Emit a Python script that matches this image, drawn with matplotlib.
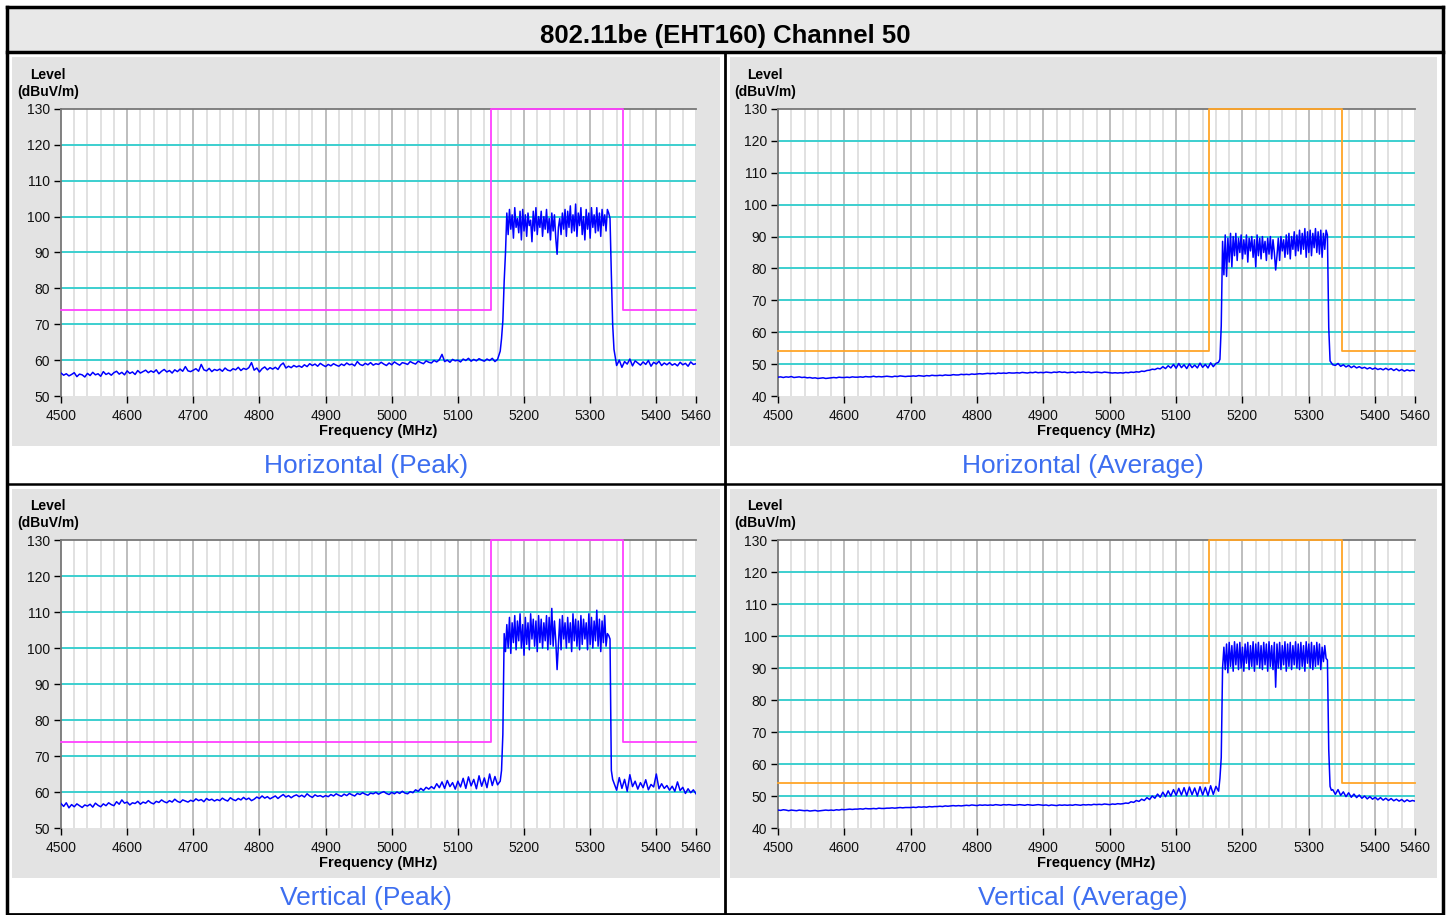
import numpy as np
import matplotlib.pyplot as plt
from matplotlib.patches import Rectangle
from matplotlib.lines import Line2D

plt.rcParams['font.family'] = ['Liberation Sans', 'DejaVu Sans']

# ---- data ----
title = '802.11be (EHT160) Channel 50'
captions = ['Horizontal (Peak)', 'Horizontal (Average)', 'Vertical (Peak)', 'Vertical (Average)']

# analyzer sweep points (MHz): 4 MHz steps outside the channel, 2 MHz across it
freq = np.concatenate([np.arange(4500, 5165, 4),
                       np.arange(5166, 5337, 2),
                       np.arange(5340, 5461, 4)])

# limit masks
limit_freq = [4500, 5150, 5150, 5350, 5350, 5460]
peak_limit = [74, 74, 130, 130, 74, 74]
avg_limit = [54, 54, 130, 130, 54, 54]

# measured levels (dBuV/m)
h_peak = [
    # 4500 - 5164
    56.4, 55.8, 56.2, 55.6, 56.0, 56.5, 55.4, 56.1, 55.9, 55.3,
    56.3, 55.7, 56.6, 55.9, 56.2, 55.5, 56.8, 56.0, 56.4, 55.8,
    56.5, 56.9, 56.1, 56.6, 55.9, 57.0, 56.3, 56.7, 56.0, 57.1,
    56.4, 56.8, 57.2, 56.5, 57.0, 56.6, 57.3, 56.2, 56.9, 57.4,
    56.7, 57.1, 56.4, 57.3, 56.8, 57.5, 56.9, 58.2, 57.0, 56.8,
    57.2, 57.6, 56.9, 58.8, 57.3, 57.0, 57.7, 56.8, 57.4, 57.1,
    57.5, 56.9, 57.8, 57.2, 57.0, 57.6, 57.3, 58.0, 57.1, 57.7,
    57.4, 57.9, 59.3, 57.2, 57.8, 56.7, 57.6, 58.1, 57.3, 57.9,
    57.5, 58.0, 57.4, 58.6, 59.2, 57.8, 58.3, 57.9, 58.5, 58.1,
    58.4, 58.0, 58.7, 58.2, 59.0, 58.5, 58.9, 58.3, 59.1, 58.6,
    58.2, 58.8, 58.4, 59.0, 58.6, 58.3, 58.9, 58.5, 59.2, 58.7,
    58.9, 58.4, 59.6, 58.8, 58.5, 59.1, 58.7, 59.3, 58.6, 59.0,
    58.8, 59.4, 58.9, 58.5, 59.2, 58.7, 59.5, 59.0, 58.6, 59.3,
    59.1, 58.8, 59.6, 59.2, 58.9, 59.7, 59.3, 59.0, 59.8, 59.4,
    59.2, 59.9, 59.5, 60.1, 61.6, 59.6, 60.0, 59.4, 60.2, 59.8,
    60.0, 59.5, 60.3, 59.9, 60.5, 59.7, 60.2, 59.8, 60.4, 60.0,
    59.7, 60.3, 59.9, 60.5, 59.6, 60.2, 62.5,
    # 5166 - 5336
    66.0, 71.0, 82.0, 90.0, 101.0, 95.0, 102.0, 96.5, 100.5, 94.0,
    102.5, 97.0, 99.5, 95.5, 101.5, 93.5, 102.0, 96.0, 100.5, 94.5,
    101.0, 97.5, 99.0, 93.0, 101.5, 96.0, 102.5, 95.0, 100.0, 97.0,
    101.5, 94.5, 100.0, 96.5, 102.0, 95.5, 99.5, 93.5, 101.0, 96.0,
    100.5, 94.0, 89.5, 97.0, 99.5, 95.0, 101.0, 96.5, 102.0, 94.5,
    101.5, 97.0, 103.0, 95.5, 100.5, 96.0, 103.5, 94.5, 101.0, 97.5,
    102.5, 95.0, 100.0, 93.5, 102.0, 96.5, 101.0, 94.0, 102.5, 97.0,
    100.5, 95.5, 102.5, 96.0, 101.0, 94.5, 102.0, 97.5, 100.5, 96.0,
    102.0, 101.0, 99.5, 84.0, 70.0, 63.0,
    # 5340 - 5460
    58.5, 60.0, 58.0, 59.6, 58.9, 60.3, 58.4, 59.8, 59.2, 58.6,
    59.5, 58.8, 59.9, 58.3, 59.4, 58.9, 59.7, 58.5, 59.2, 58.7,
    59.3, 58.6, 59.0, 58.4, 59.4, 58.7, 59.1, 58.3, 59.5, 58.8,
    59.0,
]

h_avg = [
    # 4500 - 5164
    45.9, 46.0, 45.8, 46.0, 45.9, 46.1, 45.8, 45.9, 46.0, 45.8,
    45.9, 45.7, 45.8, 45.6, 45.7, 45.5, 45.6, 45.7, 45.5, 45.6,
    45.7, 45.8, 45.7, 45.9, 45.8, 45.8, 45.9, 45.8, 46.0, 45.9,
    45.9, 46.0, 45.9, 46.1, 46.0, 46.0, 46.2, 46.0, 46.1, 46.0,
    46.1, 46.2, 46.1, 46.0, 46.2, 46.1, 46.3, 46.2, 46.1, 46.2,
    46.2, 46.3, 46.2, 46.4, 46.3, 46.2, 46.4, 46.3, 46.5, 46.4,
    46.4, 46.5, 46.4, 46.6, 46.5, 46.5, 46.7, 46.6, 46.6, 46.8,
    46.7, 46.8, 46.7, 46.9, 46.8, 46.9, 47.0, 46.9, 47.0, 47.1,
    47.0, 47.1, 47.0, 47.2, 47.1, 47.2, 47.1, 47.3, 47.2, 47.2,
    47.3, 47.2, 47.4, 47.3, 47.2, 47.4, 47.3, 47.5, 47.3, 47.4,
    47.3, 47.5, 47.4, 47.3, 47.5, 47.4, 47.6, 47.4, 47.5, 47.3,
    47.4, 47.5, 47.3, 47.5, 47.4, 47.6, 47.4, 47.5, 47.3, 47.4,
    47.5, 47.4, 47.3, 47.5, 47.4, 47.3, 47.2, 47.3, 47.2, 47.3,
    47.2, 47.4, 47.3, 47.5, 47.4, 47.6, 47.5, 47.8, 47.7, 48.0,
    48.1, 48.4, 48.3, 48.7, 48.5, 49.2, 48.6, 49.5, 48.8, 49.9,
    48.7, 50.2, 48.9, 49.8, 48.6, 50.1, 48.9, 49.7, 48.8, 50.3,
    49.0, 49.9, 48.8, 50.4, 49.2, 50.2, 50.6,
    # 5166 - 5336
    51.5, 62.0, 88.5, 78.0, 90.5, 77.5, 89.5, 82.0, 91.0, 80.5,
    90.0, 84.0, 91.0, 82.5, 89.5, 85.0, 90.5, 83.0, 89.0, 84.5,
    90.5, 82.0, 89.5, 85.5, 90.0, 83.5, 89.0, 80.5, 90.5, 84.0,
    89.5, 83.0, 90.0, 85.0, 88.5, 82.5, 89.5, 84.5, 90.0, 83.0,
    89.0, 85.0, 79.5, 84.0, 89.5, 82.5, 90.0, 85.5, 89.0, 83.5,
    90.5, 84.5, 91.0, 83.0, 90.0, 86.0, 91.5, 84.0, 90.5, 85.5,
    92.0, 84.5, 91.0, 86.0, 92.5, 83.5, 91.5, 85.0, 92.0, 84.0,
    91.0, 86.5, 92.5, 85.0, 91.5, 84.5, 92.0, 83.5, 91.0, 86.0,
    92.0, 90.5, 61.5, 51.0, 50.4, 49.8,
    # 5340 - 5460
    49.6, 50.2, 49.3, 49.8, 49.1, 49.6, 48.9, 49.4, 48.8, 49.2,
    48.7, 49.0, 48.5, 48.9, 48.4, 48.8, 48.3, 48.6, 48.2, 48.7,
    48.2, 48.6, 48.0, 48.5, 47.9, 48.3, 47.8, 48.2, 47.9, 48.1,
    47.9,
]

v_peak = [
    # 4500 - 5164
    56.8, 56.0, 57.0, 55.6, 56.5, 55.9, 56.7, 56.2, 55.7, 56.4,
    56.1, 56.6, 55.8, 56.9, 56.3, 55.9, 56.7, 56.2, 57.0, 56.5,
    56.2, 57.3, 56.6, 57.8, 56.9, 57.2, 56.4, 57.0, 56.8, 57.4,
    56.6, 57.2, 56.9, 57.6, 57.0, 56.7, 57.4, 57.1, 57.8, 57.3,
    57.0, 57.6, 57.2, 58.0, 57.4, 57.1, 57.8, 57.5, 57.2, 57.7,
    57.4, 58.1, 57.6, 57.9, 57.3, 58.2, 57.7, 58.0, 57.5, 57.9,
    57.6, 58.3, 57.8, 57.5, 58.4, 57.9, 57.6, 58.2, 57.8, 58.5,
    57.9, 58.3, 57.6, 58.0, 58.6, 58.2, 58.9, 58.3, 58.7, 58.1,
    58.5, 58.9, 58.2, 58.8, 59.3, 58.6, 59.0, 58.4, 58.9, 59.2,
    58.7, 59.1, 58.6, 59.5, 58.9, 58.5, 59.2, 58.8, 59.0, 58.6,
    59.0, 58.7, 59.3, 58.9, 59.5, 59.1, 58.8, 59.4, 59.0, 59.6,
    59.2, 58.9, 59.6, 59.3, 59.8, 59.4, 59.1, 59.7, 59.5, 59.9,
    59.4, 59.8, 60.1, 59.6, 59.3, 59.9, 59.5, 60.0, 59.6, 60.2,
    59.7, 59.5, 60.1, 59.8, 60.6, 60.2, 61.0, 60.4, 61.3, 60.8,
    61.5, 60.9, 62.3, 61.2, 62.8, 61.0, 63.2, 61.5, 62.6, 60.8,
    63.0, 61.4, 63.8, 61.0, 64.2, 61.7, 63.5, 60.9, 64.5, 61.6,
    63.9, 61.2, 65.0, 61.8, 64.3, 62.0, 63.0,
    # 5166 - 5336
    66.0, 76.0, 104.0, 99.0, 106.5, 100.0, 108.5, 98.5, 107.0, 101.5,
    109.0, 99.5, 107.5, 102.0, 109.5, 100.0, 106.5, 98.0, 108.5, 101.0,
    107.0, 99.5, 109.5, 102.5, 108.0, 100.5, 107.5, 99.0, 109.0, 101.5,
    108.0, 100.0, 107.0, 102.0, 109.0, 99.5, 108.5, 101.0, 111.0, 100.5,
    107.5, 102.0, 94.0, 101.0, 108.0, 99.5, 109.0, 102.5, 107.0, 100.0,
    108.5, 101.5, 107.0, 99.0, 109.5, 102.0, 108.0, 100.5, 107.5, 99.5,
    109.0, 101.0, 108.0, 102.5, 107.0, 99.5, 109.5, 101.0, 108.5, 100.0,
    107.5, 102.0, 110.5, 100.5, 108.0, 99.0, 107.5, 101.5, 109.0, 100.5,
    104.0, 103.5, 102.5, 66.0, 63.5, 62.5,
    # 5340 - 5460
    60.5, 64.0, 61.0, 63.5, 60.2, 64.8, 61.5, 63.0, 60.8, 62.6,
    61.2, 63.4, 60.6, 62.1, 61.4, 65.0, 60.9, 62.3, 61.0, 61.8,
    60.5, 61.6, 60.2, 62.8, 60.4, 61.3, 59.6, 60.9, 59.8, 60.6,
    59.5,
]

v_avg = [
    # 4500 - 5164
    45.6, 45.5, 45.7, 45.6, 45.4, 45.6, 45.5, 45.4, 45.6, 45.5,
    45.4, 45.5, 45.3, 45.4, 45.5, 45.3, 45.4, 45.5, 45.6, 45.5,
    45.6, 45.5, 45.7, 45.6, 45.8, 45.7, 45.8, 45.9, 45.8, 45.9,
    45.9, 46.0, 45.9, 46.1, 46.0, 46.0, 46.1, 46.0, 46.2, 46.1,
    46.1, 46.2, 46.2, 46.3, 46.2, 46.3, 46.4, 46.3, 46.4, 46.4,
    46.4, 46.5, 46.4, 46.6, 46.5, 46.6, 46.5, 46.7, 46.6, 46.7,
    46.7, 46.8, 46.7, 46.9, 46.8, 46.9, 47.0, 46.9, 47.0, 46.9,
    47.0, 47.1, 47.0, 47.2, 47.1, 47.0, 47.2, 47.1, 47.2, 47.1,
    47.2, 47.1, 47.3, 47.2, 47.1, 47.3, 47.2, 47.3, 47.2, 47.1,
    47.2, 47.3, 47.2, 47.1, 47.3, 47.2, 47.1, 47.2, 47.3, 47.2,
    47.1, 47.2, 47.0, 47.2, 47.1, 47.0, 47.2, 47.1, 47.2, 47.1,
    47.2, 47.1, 47.3, 47.2, 47.1, 47.3, 47.2, 47.3, 47.2, 47.4,
    47.3, 47.4, 47.3, 47.5, 47.4, 47.3, 47.5, 47.4, 47.6, 47.5,
    47.6, 47.8, 47.7, 48.2, 48.0, 48.6, 48.3, 49.0, 48.6, 49.5,
    48.9, 50.0, 49.3, 50.6, 49.6, 51.2, 49.8, 51.6, 50.0, 52.0,
    50.2, 52.4, 50.3, 52.6, 50.1, 52.8, 50.4, 52.5, 50.0, 52.9,
    50.3, 52.7, 50.1, 53.2, 50.5, 53.0, 51.5,
    # 5166 - 5336
    55.5, 62.0, 90.0, 96.5, 89.5, 97.5, 88.5, 98.0, 90.5, 97.0,
    89.0, 98.2, 91.0, 97.5, 89.5, 98.0, 90.0, 96.5, 89.0, 97.5,
    91.5, 98.0, 89.5, 97.0, 90.5, 98.2, 89.0, 97.5, 91.0, 98.0,
    90.0, 97.0, 89.5, 98.0, 91.0, 97.5, 89.0, 98.2, 90.5, 97.0,
    89.5, 98.0, 84.0, 97.5, 90.0, 98.0, 89.5, 97.0, 91.0, 98.2,
    89.0, 97.5, 90.5, 98.0, 89.5, 97.0, 91.0, 98.2, 90.0, 97.5,
    89.5, 98.0, 90.5, 97.0, 89.0, 98.2, 91.5, 97.5, 90.0, 98.0,
    89.5, 97.0, 90.5, 98.0, 91.0, 97.5, 89.5, 96.5, 92.0, 97.0,
    93.0, 92.5, 64.5, 53.0, 51.8, 52.0,
    # 5340 - 5460
    50.5, 52.0, 50.2, 51.3, 49.8, 51.0, 49.6, 50.6, 49.5, 50.3,
    49.3, 50.0, 49.1, 49.8, 49.0, 49.6, 48.8, 49.5, 48.7, 49.3,
    48.6, 49.2, 48.5, 49.0, 48.4, 48.9, 48.2, 48.8, 48.3, 48.6,
    48.4,
]

x_ticks = [4500, 4600, 4700, 4800, 4900, 5000, 5100, 5200, 5300, 5400, 5460]

# ---- figure, laid out in pixels ----
W, H = 1450, 915
fig = plt.figure(figsize=(W / 100, H / 100), dpi=100)
fig.patch.set_facecolor('white')


def frect(x0, y0, x1, y1):
    return [x0 / W, 1 - y1 / H, (x1 - x0) / W, (y1 - y0) / H]


def box(x0, y0, x1, y1, color):
    # background block drawn beneath the axes
    fig.add_artist(Rectangle((x0 / W, 1 - y1 / H), (x1 - x0) / W, (y1 - y0) / H,
                             transform=fig.transFigure, facecolor=color,
                             edgecolor='none', zorder=-5))


def hline(x0, x1, y, lw):
    fig.add_artist(Line2D([x0 / W, x1 / W], [1 - y / H, 1 - y / H], color='black', lw=lw, zorder=5))


def vline(x, y0, y1, lw):
    fig.add_artist(Line2D([x / W, x / W], [1 - y0 / H, 1 - y1 / H], color='black', lw=lw, zorder=5))


# title row
box(7, 7, 1443, 52, '#e8e8e8')
fig.text(725 / W, 1 - 36 / H, title, ha='center', va='center', fontsize=18.5, fontweight='bold')

panels = [
    # axes box, panel box, ymin, limit, limit colour, trace, caption centre
    ((61, 109, 696, 396), (12, 57, 720, 446), 50, peak_limit, '#ff40ff', h_peak, (366, 466)),
    ((778, 109, 1415, 396), (730, 57, 1437, 446), 40, avg_limit, '#ffa528', h_avg, (1083, 466)),
    ((61, 540, 696, 828), (12, 489, 720, 878), 50, peak_limit, '#ff40ff', v_peak, (366, 898)),
    ((778, 540, 1415, 828), (730, 489, 1437, 878), 40, avg_limit, '#ffa528', v_avg, (1083, 898)),
]

for i, (abox, pbox, ymin, lim, lim_c, trace, cpos) in enumerate(panels):
    box(*pbox, '#e3e3e3')

    ax = fig.add_axes(frect(*abox))
    ax.set_facecolor('white')
    ax.set_xlim(4500, 5460)
    ax.set_ylim(ymin, 130)

    # vertical grid: light every 20 MHz, darker every 100 MHz
    for f in np.arange(4520, 5461, 20):
        c = '#b9b9b9' if f % 100 == 0 else '#dedede'
        ax.axvline(f, color=c, lw=1.3, zorder=1)
    # horizontal grid
    for lv in np.arange(ymin + 10, 130, 10):
        ax.axhline(lv, color='#3ccfcf', lw=1.4, zorder=1)

    ax.plot(freq, trace, color='#0000ff', lw=1.1, zorder=3)
    ax.plot(limit_freq, lim, color=lim_c, lw=1.3, zorder=4, clip_on=False)

    for s in ['bottom', 'right']:
        ax.spines[s].set_visible(False)
    for s in ['left', 'top']:
        ax.spines[s].set_color('#777777')
        ax.spines[s].set_linewidth(1.3)
        ax.spines[s].set_zorder(2)

    ax.set_xticks(x_ticks)
    ax.set_yticks(np.arange(ymin, 131, 10))
    ax.tick_params(axis='both', length=5, width=1, color='black', labelsize=10,
                   labelcolor='#111111')
    ax.tick_params(axis='x', pad=4)
    ax.tick_params(axis='y', pad=3)
    ax.set_xlabel('Frequency (MHz)', fontsize=10.5, fontweight='bold', labelpad=1)

    ax0, ay0 = abox[0], abox[1]
    fig.text((ax0 - 13) / W, 1 - (ay0 - 34) / H, 'Level', ha='center', va='center',
             fontsize=10, fontweight='bold')
    fig.text((ax0 - 13) / W, 1 - (ay0 - 17) / H, '(dBuV/m)', ha='center', va='center',
             fontsize=10, fontweight='bold')

    fig.text(cpos[0] / W, 1 - cpos[1] / H, captions[i], ha='center', va='center',
             fontsize=19, color='#3d6ef0')

# table borders
hline(7, 1443, 7, 2.5)
hline(7, 1443, 52, 2.5)
hline(7, 1443, 484, 1.8)
hline(7, 1443, 914, 2)
vline(7, 7, 915, 2.5)
vline(1443, 7, 915, 2.5)
vline(725, 52, 915, 2)

fig.savefig('out.png', dpi=100)
